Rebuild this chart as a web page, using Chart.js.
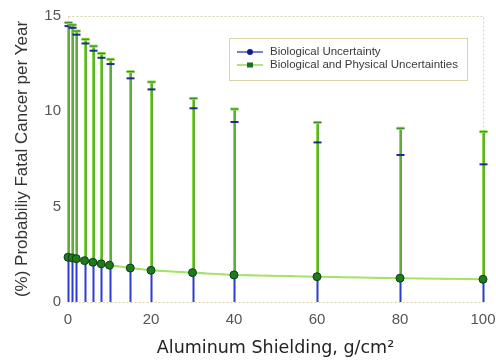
<!DOCTYPE html>
<html>
<head>
<meta charset="utf-8">
<script src="https://cdn.jsdelivr.net/npm/chart.js@4.4.0/dist/chart.umd.min.js"></script>
<style>
  html, body { margin: 0; padding: 0; background: #fff; }
  #wrap { width: 496px; height: 362px; }
</style>
</head>
<body>
<div id="wrap"><canvas id="chart" width="496" height="362"></canvas></div>
<script>
// shielding depth, g/cm^2
const shielding = [0, 1, 2, 4, 6, 8, 10, 15, 20, 30, 40, 60, 80, 100];
// mean risk (%)
const meanRisk = [2.35, 2.31, 2.27, 2.17, 2.08, 2.0, 1.93, 1.78, 1.66, 1.54, 1.42, 1.33, 1.25, 1.19];
// upper bound, biological uncertainty only
const bioUpper = [14.47, 14.38, 14.02, 13.56, 13.18, 12.81, 12.48, 11.73, 11.15, 10.16, 9.44, 8.37, 7.71, 7.22];
// upper bound, biological + physical
const totalUpper = [14.65, 14.53, 14.21, 13.78, 13.42, 13.04, 12.73, 12.08, 11.54, 10.68, 10.12, 9.42, 9.11, 8.93];
const lowerBound = [0, 0, 0, 0, 0, 0, 0, 0, 0, 0, 0, 0, 0, 0];

const seriesNames = ["Biological Uncertainty", "Biological and Physical Uncertainties"];
const xTicks = [0, 20, 40, 60, 80, 100];
const yTicks = [0, 5, 10, 15];

const pts = shielding.map((x, i) => ({ x: x, y: meanRisk[i] }));
const FONT = "'Liberation Sans', Arial, sans-serif";

// error bars, frame
const errorBars = {
  id: "errorBars",
  beforeDatasetsDraw(chart) {
    const { ctx, chartArea: a, scales: { x, y } } = chart;
    ctx.save();
    // dotted frame
    ctx.strokeStyle = "#d9d3a6";
    ctx.lineWidth = 1;
    ctx.setLineDash([2, 2]);
    ctx.strokeRect(a.left + 0.5, a.top + 0.5, a.right - a.left, a.bottom - a.top);
    ctx.setLineDash([]);

    shielding.forEach((v, i) => {
      const px = Math.round(x.getPixelForValue(v)) + 0.5;
      const y0 = y.getPixelForValue(lowerBound[i]);
      const ym = y.getPixelForValue(meanRisk[i]);
      const yb = y.getPixelForValue(bioUpper[i]);
      const yt = y.getPixelForValue(totalUpper[i]);
      // green, total uncertainty
      ctx.strokeStyle = "#8edc44";
      ctx.lineWidth = 3;
      ctx.beginPath(); ctx.moveTo(px, ym); ctx.lineTo(px, yt); ctx.stroke();
      ctx.strokeStyle = "#2e7d2e";
      ctx.lineWidth = 1;
      ctx.beginPath(); ctx.moveTo(px + 0.5, ym); ctx.lineTo(px + 0.5, yt); ctx.stroke();
      // blue, lower half
      ctx.strokeStyle = "#2a3bd6";
      ctx.lineWidth = 2;
      ctx.beginPath(); ctx.moveTo(px, y0); ctx.lineTo(px, ym); ctx.stroke();
      // caps
      ctx.strokeStyle = "#8edc44";
      ctx.lineWidth = 3;
      ctx.beginPath(); ctx.moveTo(px - 4, yt); ctx.lineTo(px + 4, yt); ctx.stroke();
      ctx.strokeStyle = "#2e7d2e";
      ctx.lineWidth = 1;
      ctx.beginPath(); ctx.moveTo(px - 4, yt); ctx.lineTo(px + 4, yt); ctx.stroke();
      ctx.strokeStyle = "#1d2b8c";
      ctx.lineWidth = 2;
      ctx.beginPath(); ctx.moveTo(px - 4, yb); ctx.lineTo(px + 4, yb); ctx.stroke();
    });
    ctx.restore();
  }
};

// legend box with line + marker
const legendBox = {
  id: "legendBox",
  afterDraw(chart) {
    const ctx = chart.ctx;
    ctx.save();
    ctx.fillStyle = "#fff";
    ctx.fillRect(229, 38, 238, 42);
    ctx.strokeStyle = "#d9d3a6";
    ctx.lineWidth = 1;
    ctx.strokeRect(229.5, 38.5, 238, 42);
    const rows = [52, 65];
    const cols = ["#1d2bb0", "#7ccf3a"];
    rows.forEach((ry, i) => {
      ctx.strokeStyle = cols[i];
      ctx.lineWidth = 1.2;
      ctx.beginPath(); ctx.moveTo(237, ry); ctx.lineTo(263, ry); ctx.stroke();
      if (i === 0) {
        ctx.fillStyle = "#0b1a9a";
        ctx.beginPath(); ctx.arc(250, ry, 3, 0, Math.PI * 2); ctx.fill();
      } else {
        ctx.fillStyle = "#1f6f1f";
        ctx.fillRect(247, ry - 2.5, 6, 5);
      }
      ctx.fillStyle = "#3a3a3a";
      ctx.font = "11.5px " + FONT;
      ctx.textBaseline = "middle";
      ctx.fillText(seriesNames[i], 270, ry);
    });
    ctx.restore();
  }
};

new Chart(document.getElementById("chart"), {
  type: "scatter",
  data: {
    datasets: [
      {
        label: seriesNames[1],
        data: pts,
        showLine: true,
        borderColor: "#a4e460",
        borderWidth: 2,
        pointRadius: 4,
        pointBackgroundColor: "#1f7a1f",
        pointBorderColor: "#0f3f0f",
        pointBorderWidth: 1,
        order: 1,
      },
      {
        label: seriesNames[0],
        data: pts,
        showLine: true,
        borderColor: "#4a6fe0",
        borderWidth: 1,
        borderDash: [8, 14],
        pointRadius: 0,
        order: 2,
      },
    ],
  },
  options: {
    responsive: false,
    animation: false,
    clip: false,
    layout: { padding: { top: 16, right: 13, left: 0, bottom: 0 } },
    plugins: {
      legend: { display: false },
      tooltip: { enabled: false },
    },
    scales: {
      x: {
        type: "linear",
        min: 0,
        max: 100,
        afterBuildTicks: (s) => { s.ticks = xTicks.map((v) => ({ value: v })); },
        afterFit: (s) => { s.height = 60; s.paddingRight = 0; s.paddingLeft = 0; },
        grid: { display: false, drawTicks: false },
        border: { display: false },
        ticks: {
          padding: 9,
          color: "#555",
          font: { family: FONT, size: 15 },
        },
        title: {
          display: true,
          text: "Aluminum Shielding, g/cm²",
          color: "#222",
          font: { family: "'DejaVu Sans', sans-serif", size: 17.5 },
          padding: { top: 0, bottom: 3 },
        },
      },
      y: {
        min: 0,
        max: 15,
        afterBuildTicks: (s) => { s.ticks = yTicks.map((v) => ({ value: v })); },
        afterFit: (s) => { s.width = 68; s.paddingTop = 0; s.paddingBottom = 0; },
        grid: { display: false, drawTicks: false },
        border: { display: false },
        ticks: {
          padding: 7,
          color: "#555",
          font: { family: FONT, size: 15 },
        },
        title: {
          display: true,
          text: "(%) Probabiliy Fatal Cancer per Year",
          color: "#333",
          font: { family: FONT, size: 17 },
          padding: { top: 12, bottom: 0 },
        },
      },
    },
  },
  plugins: [errorBars, legendBox],
});
</script>
</body>
</html>
